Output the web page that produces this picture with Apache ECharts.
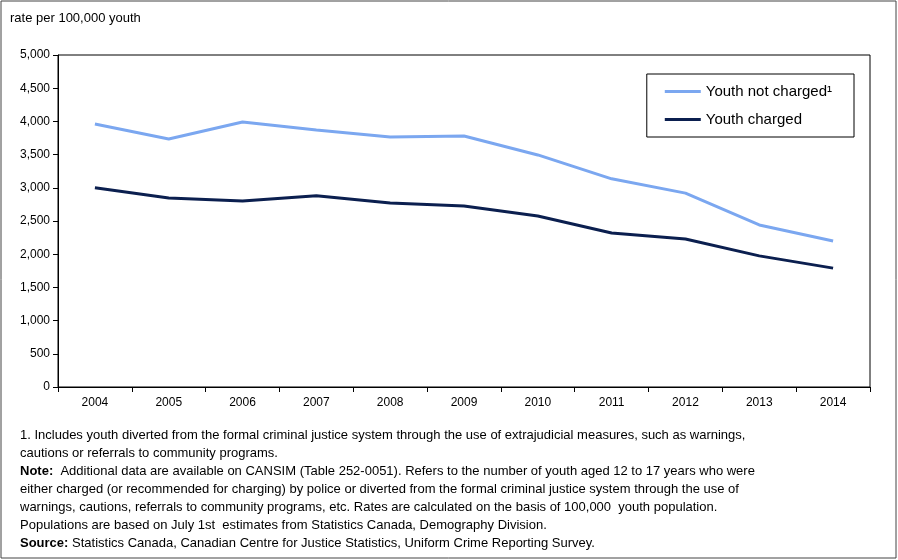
<!DOCTYPE html>
<html>
<head>
<meta charset="utf-8">
<script src="https://cdn.jsdelivr.net/npm/echarts@6/dist/echarts.min.js"></script>
<style>
  html, body { margin: 0; padding: 0; background: #fff; }
  #chart { width: 898px; height: 560px; }
</style>
</head>
<body>
<div id="chart"></div>
<script>
// data
var years = ['2004', '2005', '2006', '2007', '2008', '2009', '2010', '2011', '2012', '2013', '2014'];
var notCharged = [3960, 3735, 3990, 3870, 3765, 3780, 3495, 3135, 2920, 2440, 2200];
var charged = [3000, 2845, 2800, 2880, 2770, 2725, 2575, 2320, 2230, 1975, 1790];

var font = 'Liberation Sans, Arial, sans-serif';

var notes = [
    '1. Includes youth diverted from the formal criminal justice system through the use of extrajudicial measures, such as warnings,',
    'cautions or referrals to community programs.',
    '{b|Note:}  Additional data are available on CANSIM (Table 252-0051). Refers to the number of youth aged 12 to 17 years who were',
    'either charged (or recommended for charging) by police or diverted from the formal criminal justice system through the use of',
    'warnings, cautions, referrals to community programs, etc. Rates are calculated on the basis of 100,000  youth population.',
    'Populations are based on July 1st  estimates from Statistics Canada, Demography Division.',
    '{b|Source:} Statistics Canada, Canadian Centre for Justice Statistics, Uniform Crime Reporting Survey.'
];

let chart = echarts.init(document.getElementById('chart'));

var option = {
    animation: false,
    backgroundColor: '#fff',
    textStyle: { fontFamily: font },
    grid: {
        left: 58,
        right: 28,
        top: 55,
        bottom: 173,
        show: true,
        borderColor: '#000',
        borderWidth: 1
    },
    legend: {
        orient: 'vertical',
        right: 44,
        top: 74,
        itemWidth: 36,
        itemHeight: 3,
        itemGap: 13,
        padding: [10, 22, 10, 18],
        borderColor: '#000',
        borderWidth: 1,
        textStyle: { fontSize: 15, color: '#000', fontFamily: font },
        data: [
            { name: 'Youth not charged¹', icon: 'rect' },
            { name: 'Youth charged', icon: 'rect' }
        ]
    },
    xAxis: {
        type: 'category',
        data: years,
        boundaryGap: true,
        axisLine: { lineStyle: { color: '#000' } },
        axisTick: { show: true, alignWithLabel: false, lineStyle: { color: '#000' } },
        axisLabel: { color: '#000', fontSize: 12, margin: 10 }
    },
    yAxis: {
        type: 'value',
        min: 0,
        max: 5000,
        interval: 500,
        axisLine: { show: true, lineStyle: { color: '#000' } },
        axisTick: { show: true, inside: false, lineStyle: { color: '#000' } },
        splitLine: { show: false },
        axisLabel: {
            color: '#000',
            fontSize: 12,
            formatter: function (v) { return v.toLocaleString('en-US'); }
        }
    },
    series: [
        {
            name: 'Youth not charged¹',
            type: 'line',
            data: notCharged,
            symbol: 'none',
            lineStyle: { color: '#7ba7f0', width: 3 },
            itemStyle: { color: '#7ba7f0' }
        },
        {
            name: 'Youth charged',
            type: 'line',
            data: charged,
            symbol: 'none',
            lineStyle: { color: '#0b1f4f', width: 3 },
            itemStyle: { color: '#0b1f4f' }
        }
    ],
    graphic: [
        {
            type: 'rect',
            shape: { x: 1, y: 1, width: 895, height: 557 },
            style: { fill: 'none', stroke: '#444', lineWidth: 1 }
        },
        {
            type: 'text',
            left: 10,
            top: 12,
            style: { text: 'rate per 100,000 youth', fontSize: 13, fill: '#000', fontFamily: font }
        },
        {
            type: 'text',
            left: 20,
            top: 426,
            style: {
                text: notes.join('\n'),
                fontSize: 13,
                lineHeight: 18,
                fill: '#000',
                fontFamily: font,
                rich: { b: { fontWeight: 'bold', fontSize: 13, fontFamily: font } }
            }
        }
    ]
};

chart.setOption(option);
</script>
</body>
</html>
